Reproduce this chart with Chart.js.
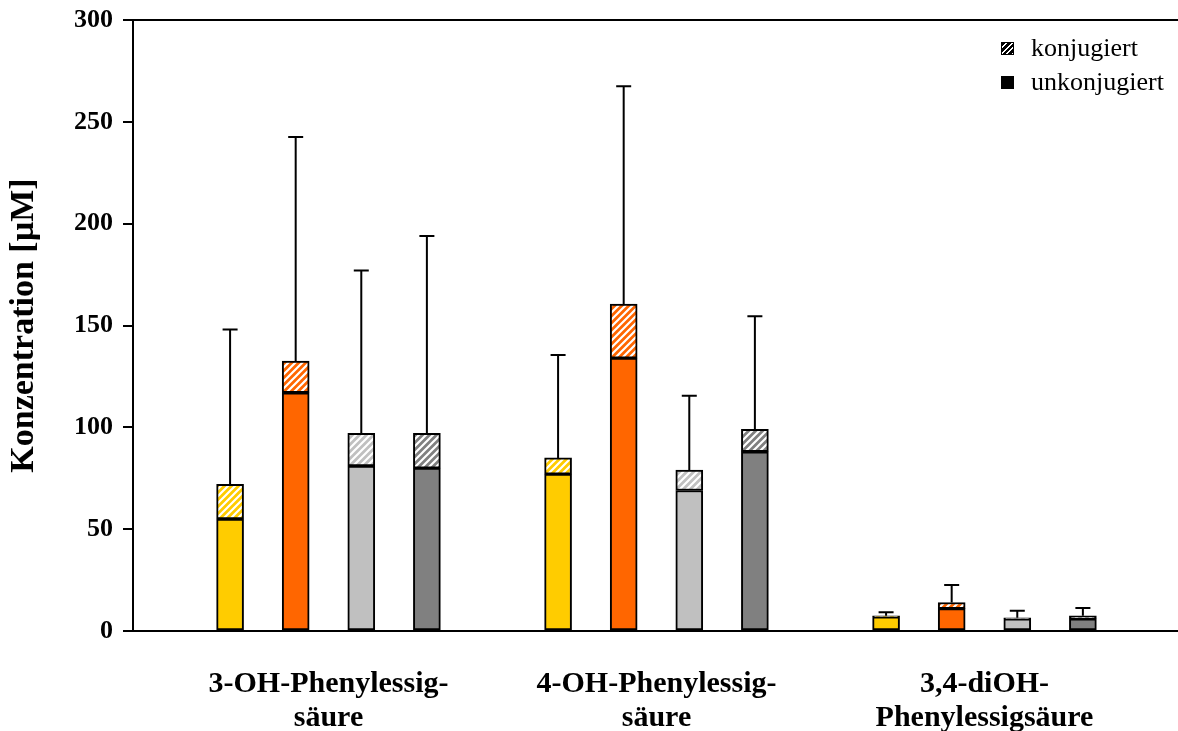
<!DOCTYPE html>
<html>
<head>
<meta charset="utf-8">
<script src="https://cdn.jsdelivr.net/npm/chart.js@4/dist/chart.umd.min.js"></script>
<style>
  html, body { margin: 0; padding: 0; background: #fff; }
  #wrap { position: relative; width: 1178px; height: 731px; }
  #legend { position: absolute; left: 1001px; top: 31px; font-family: "Liberation Serif", "Times New Roman", serif; font-size: 26px; color: #000; line-height: 34px; }
  #legend .row { display: flex; align-items: center; }
  #legend .sw { width: 13px; height: 13px; margin-right: 17px; background: #000; }
  #legend .sw.hatch { background: repeating-linear-gradient(135deg, #000 0 2.5px, #fff 2.5px 4px); border: 1px solid #000; width: 11px; height: 11px; }
</style>
</head>
<body>
<div id="wrap">
  <canvas id="chart" width="1178" height="731"></canvas>
  <div id="legend">
    <div class="row"><span class="sw hatch"></span>konjugiert</div>
    <div class="row"><span class="sw"></span>unkonjugiert</div>
  </div>
</div>
<script>
// categories (x-axis labels, split in two lines like the original)
const categories = [
  ['3-OH-Phenylessig-', 'säure'],
  ['4-OH-Phenylessig-', 'säure'],
  ['3,4-diOH-', 'Phenylessigsäure'],
];
// four bars per group, same colour order in every group
const barColors = ['#FFCC00', '#FF6600', '#C0C0C0', '#808080'];

// values in µM, group by group (yellow, orange, light grey, dark grey)
const unkonjugiert = [55, 117, 81, 80, 77, 134, 69, 88, 7, 11, 6, 6];
const konjugiert = [17, 15.5, 16, 17, 8, 26.5, 10, 11, 0.5, 3, 0.5, 1.5];
const sdUp = [76, 110, 80, 97, 50.5, 107, 36.5, 55.5, 1.7, 8.6, 3.5, 3.8];

const yTicks = [0, 50, 100, 150, 200, 250, 300];

const perGroup = barColors.length;
const slot = (i) => Math.floor(i / perGroup) * (perGroup + 1) + (i % perGroup);
const groupCenter = (g) => g * (perGroup + 1) + (perGroup - 1) / 2;

function hatch(color) {
  const c = document.createElement('canvas');
  c.width = 7; c.height = 7;
  const g = c.getContext('2d');
  g.fillStyle = color;
  g.fillRect(0, 0, 7, 7);
  g.strokeStyle = '#fff';
  g.lineWidth = 2.2;
  g.beginPath();
  g.moveTo(-1, 8); g.lineTo(8, -1);
  g.moveTo(-1, 1); g.lineTo(1, -1);
  g.moveTo(6, 8); g.lineTo(8, 6);
  g.stroke();
  return g.createPattern(c, 'repeat');
}

const colorAt = (i) => barColors[i % perGroup];

const errorBars = {
  id: 'errorBars',
  afterDatasetsDraw(chart) {
    const { ctx, scales: { x, y } } = chart;
    ctx.save();
    ctx.strokeStyle = '#000';
    ctx.lineWidth = 2;
    unkonjugiert.forEach((u, i) => {
      const total = u + konjugiert[i];
      const px = x.getPixelForValue(slot(i));
      const y0 = y.getPixelForValue(total);
      const y1 = y.getPixelForValue(total + sdUp[i]);
      ctx.beginPath();
      ctx.moveTo(px, y0); ctx.lineTo(px, y1);
      ctx.moveTo(px - 7.5, y1); ctx.lineTo(px + 7.5, y1);
      ctx.stroke();
    });
    ctx.restore();
  }
};

const serif = '"Liberation Serif", "Times New Roman", serif';

new Chart(document.getElementById('chart'), {
  type: 'bar',
  data: {
    datasets: [
      {
        label: 'unkonjugiert',
        data: unkonjugiert.map((v, i) => ({ x: slot(i), y: v })),
        backgroundColor: unkonjugiert.map((v, i) => colorAt(i)),
        borderColor: '#000',
        borderWidth: 2,
        borderSkipped: false,
        barThickness: 27,
      },
      {
        label: 'konjugiert',
        data: konjugiert.map((v, i) => ({ x: slot(i), y: v })),
        backgroundColor: konjugiert.map((v, i) => hatch(colorAt(i))),
        borderColor: '#000',
        borderWidth: 2,
        borderSkipped: false,
        barThickness: 27,
      },
    ],
  },
  options: {
    responsive: false,
    animation: false,
    layout: { padding: { top: 20, right: 0, left: 0, bottom: 0 } },
    plugins: { legend: { display: false }, tooltip: { enabled: false } },
    scales: {
      x: {
        type: 'linear',
        stacked: true,
        offset: false,
        min: -1.48,
        max: 14.45,
        grid: { display: false, drawTicks: false, offset: false },
        border: { display: true, color: '#000', width: 2 },
        afterBuildTicks: (s) => { s.ticks = categories.map((c, g) => ({ value: groupCenter(g) })); },
        afterFit: (s) => { s.height = 100; },
        ticks: {
          autoSkip: false,
          minRotation: 0,
          maxRotation: 0,
          padding: 36,
          color: '#000',
          font: { family: serif, size: 30, weight: 'bold', lineHeight: 1.13 },
          callback: (v) => categories[Math.round((v - groupCenter(0)) / (perGroup + 1))],
        },
      },
      y: {
        stacked: true,
        min: 0,
        max: 300,
        afterBuildTicks: (s) => { s.ticks = yTicks.map(v => ({ value: v })); },
        afterFit: (s) => { s.width = 133; },
        grid: {
          color: (c) => c.tick && c.tick.value === 300 ? '#000' : 'rgba(0,0,0,0)',
          tickColor: '#000',
          tickLength: 10,
          lineWidth: 2,
        },
        border: { display: true, color: '#000', width: 2 },
        ticks: {
          padding: 10,
          color: '#000',
          font: { family: serif, size: 26, weight: 'bold', lineHeight: 0.76 },
        },
        title: {
          display: true,
          text: 'Konzentration [µM]',
          color: '#000',
          font: { family: serif, size: 34, weight: 'bold' },
          padding: { top: 4, bottom: 0 },
        },
      },
    },
  },
  plugins: [errorBars],
});
</script>
</body>
</html>
